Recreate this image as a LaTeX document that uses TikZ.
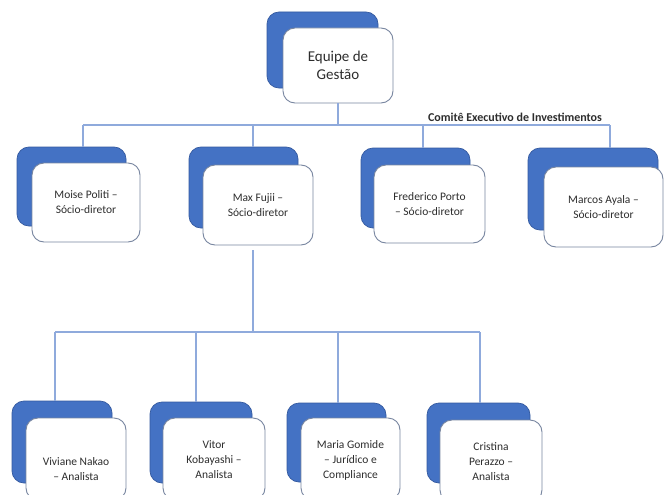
\documentclass[tikz,border=0pt]{standalone}
\usepackage{fontspec}
\setmainfont{Carlito}
\definecolor{boxblue}{RGB}{68,114,196}
\definecolor{blueedge}{RGB}{52,90,160}
\definecolor{grayedge}{RGB}{120,134,160}
\definecolor{linecol}{RGB}{143,170,220}
\definecolor{txt}{RGB}{45,45,45}
\begin{document}
\begin{tikzpicture}[x=1pt,y=-1pt,
  blueb/.style={draw=blueedge, fill=boxblue, rounded corners=12pt, line width=0.7pt, inner sep=0pt},
  whiteb/.style={draw=grayedge, fill=white, rounded corners=12pt, line width=0.9pt, inner sep=0pt, align=center, text=txt, font=\fontsize{11.5}{15}\selectfont},
  topb/.style={whiteb, font=\fontsize{15}{18.5}\selectfont},
  lbl/.style={align=center, text=txt, font=\fontsize{11.5}{15}\selectfont, inner sep=0pt},
  conn/.style={draw=linecol, line width=1.1pt}]
\useasboundingbox (0,0) rectangle (664,495);
\clip (0,0) rectangle (664,495);
\fill[white] (0,0) rectangle (664,495);
% top
\node[blueb, minimum width=111pt, minimum height=76pt] (b0) at (322.5,50) {};
\node[topb, minimum width=110pt, minimum height=75pt] (w0) at (338,65.5) {Equipe de\\Gestão};
% level 1
\node[blueb, minimum width=109pt, minimum height=79pt] (b1) at (71.5,186.5) {};
\node[whiteb, minimum width=108pt, minimum height=79pt] (w1) at (86,202.5) {Moise Politi –\\Sócio-diretor};
\node[blueb, minimum width=109pt, minimum height=81pt] (b2) at (243.5,187.5) {};
\node[whiteb, minimum width=110pt, minimum height=80pt] (w2) at (258,205) {Max Fujii –\\Sócio-diretor};
\node[blueb, minimum width=109pt, minimum height=80pt] (b3) at (415.5,188) {};
\node[whiteb, minimum width=111pt, minimum height=78pt] (w3) at (429.5,204) {Frederico Porto\\– Sócio-diretor};
\node[blueb, minimum width=130pt, minimum height=82pt] (b4) at (593,189) {};
\node[whiteb, minimum width=119pt, minimum height=80pt] (w4) at (603.5,207) {Marcos Ayala –\\Sócio-diretor};
% level 2
\node[blueb, minimum width=100pt, minimum height=82pt] (b5) at (62,442) {};
\node[whiteb, minimum width=100pt, minimum height=82pt] (w5) at (76,459) {};
\node[lbl] (t5) at (76,469) {Viviane Nakao\\– Analista};
\node[blueb, minimum width=102pt, minimum height=81pt] (b6) at (201,442.5) {};
\node[whiteb, minimum width=102pt, minimum height=82pt] (w6) at (214,459) {};
\node[lbl] (t6) at (214,460) {Vitor\\Kobayashi –\\Analista};
\node[blueb, minimum width=99pt, minimum height=79pt] (b7) at (336.5,442.5) {};
\node[whiteb, minimum width=99pt, minimum height=82pt] (w7) at (350.5,459) {};
\node[lbl] (t7) at (350.5,460) {Maria Gomide\\– Jurídico e\\Compliance};
\node[blueb, minimum width=103pt, minimum height=80pt] (b8) at (478.5,443) {};
\node[whiteb, minimum width=102pt, minimum height=82pt] (w8) at (491,461) {};
\node[lbl] (t8) at (491,462) {Cristina\\Perazzo –\\Analista};
% label
\node[text=txt, font=\fontsize{12}{14}\bfseries, inner sep=0pt] (cei) at (515,117) {Comitê Executivo de Investimentos};
% connectors level 0 -> 1
\coordinate (j1) at (83,125);
\coordinate (j2) at (253,125);
\coordinate (j3) at (423,125);
\coordinate (j4) at (610,125);
\coordinate (jt) at (338,125);
\draw[conn] (w0.south) -- (jt);
\draw[conn] (j1) -- (j4);
\draw[conn] (j1) -- (j1 |- b1.north);
\draw[conn] (j2) -- (j2 |- b2.north);
\draw[conn] (j3) -- (j3 |- b3.north);
\draw[conn] (j4) -- (j4 |- b4.north);
% connectors level 1 -> 2
\coordinate (s2) at (253,250);
\coordinate (k0) at (253,332);
\coordinate (k1) at (55,332);
\coordinate (k2) at (196,332);
\coordinate (k3) at (338,332);
\coordinate (k4) at (480,332);
\draw[conn] (s2) -- (k0);
\draw[conn] (k1) -- (k4);
\draw[conn] (k1) -- (k1 |- b5.north);
\draw[conn] (k2) -- (k2 |- b6.north);
\draw[conn] (k3) -- (k3 |- b7.north);
\draw[conn] (k4) -- (k4 |- b8.north);
\end{tikzpicture}
\end{document}
